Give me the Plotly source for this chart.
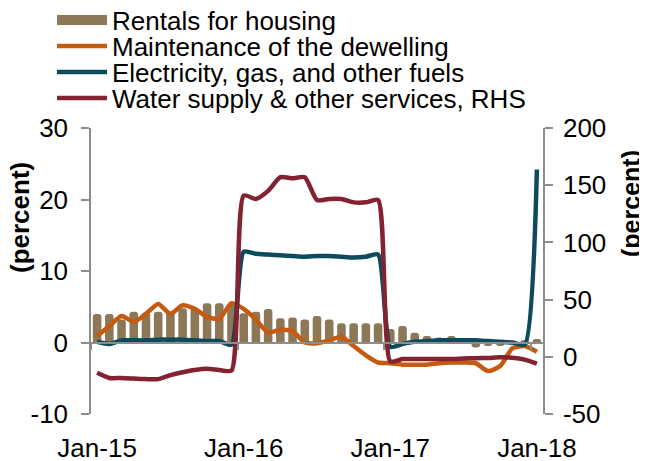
import plotly.graph_objects as go

months = list(range(37))
tick_labels = ["Jan-15", "Jan-16", "Jan-17", "Jan-18"]
tick_months = [0, 12, 24, 36]
left_ticks = [-10, 0, 10, 20, 30]
right_ticks = [-50, 0, 50, 100, 150, 200]

rentals = [4.0, 4.0, 3.2, 4.3, 4.2, 4.3, 4.3, 4.8, 4.8, 5.5, 5.5, 5.5,
           4.1, 4.3, 4.7, 3.4, 3.5, 3.2, 3.7, 3.2, 2.7, 2.7, 2.7, 2.7,
           1.9, 2.3, 1.35, 0.9, 0.7, 0.9, -0.2, -0.7, -0.5, -0.5, -0.3, 0.3, 0.5]
maintenance = [0.9, 2.3, 3.7, 2.9, 4.0, 5.4, 4.0, 5.2, 4.7, 3.6, 3.3, 5.5,
               4.7, 3.2, 1.4, 1.8, 1.6, 0.0, -0.1, 0.3, 0.8, -0.5, -1.8, -2.8,
               -2.9, -3.1, -3.1, -3.1, -2.9, -2.8, -2.8, -2.9, -4.0, -3.3, -0.8, -0.5, -1.3]
electricity = [0.1, -0.2, 0.3, 0.3, 0.3, 0.4, 0.4, 0.4, 0.3, 0.2, 0.2, -0.3,
               12.7, 12.4, 12.3, 12.2, 12.1, 12.0, 12.1, 12.1, 12.0, 11.9, 12.0, 12.3,
               -0.6, -0.2, 0.1, 0.2, 0.3, 0.3, 0.3, 0.3, 0.2, 0.1, 0.0, -0.3, 24.2]
water = [-14, -18.5, -18.5, -19, -19.5, -19.5, -16, -13.5, -11.5, -10.5, -11.5, -12,
         141, 138, 145, 157, 156, 157, 137, 138, 138, 135, 135, 137,
         -4, -2, -2, -2, -2, -2, -1.5, -1.2, -1, -0.5, -0.8, -2.5, -6]

names = ["Rentals for housing", "Maintenance of the dewelling",
         "Electricity, gas, and other fuels", "Water supply & other services, RHS"]

TAN = "#8C7757"
ORANGE = "#C55A11"
BLUE = "#0D4A5E"
RED = "#832230"
GRAY = "#8C8C8C"
FONT = "Liberation Sans, Arial, sans-serif"
FS = 26

# page body has an 8px default margin; figure is sized to fill the rest of the window
OFF = 8
W, H = 647 - OFF, 461 - OFF
L, R, T, B = 91 - OFF, 543 - OFF, 128 - OFF, 414 - OFF

def px_x(px):
    return (px - OFF - L) / (R - L)

def px_y(py):
    return (B - (py - OFF)) / (B - T)

fig = go.Figure()
fig.add_trace(go.Bar(x=months, y=rentals, marker=dict(color=TAN, cornerradius=3, line=dict(width=0)),
                     xaxis="x", yaxis="y", showlegend=False, name=names[0]))
# legend swatch for bars
fig.add_trace(go.Scatter(x=[None], y=[None], mode="lines", line=dict(color=TAN, width=16),
                         name=names[0], legend="legend", xaxis="x3", yaxis="y"))
fig.add_trace(go.Scatter(x=months, y=maintenance, mode="lines", line=dict(color=ORANGE, width=4.5, shape="spline", smoothing=0.6),
                         name=names[1], legend="legend2", xaxis="x3", yaxis="y"))
fig.add_trace(go.Scatter(x=months, y=electricity, mode="lines", line=dict(color=BLUE, width=4.5, shape="spline", smoothing=0.6),
                         name=names[2], legend="legend3", xaxis="x3", yaxis="y"))
fig.add_trace(go.Scatter(x=months, y=water, mode="lines", line=dict(color=RED, width=4.5, shape="spline", smoothing=0.6),
                         name=names[3], legend="legend4", xaxis="x3", yaxis="y2"))

def leg(py):
    return dict(x=px_x(52), y=px_y(py), xref="paper", yref="paper",
                xanchor="left", yanchor="middle", bgcolor="rgba(0,0,0,0)", itemwidth=50,
                font=dict(family=FONT, size=FS, color="#000"), borderwidth=0)

xr = [-0.5, 36.5]
fig.update_layout(
    width=W, height=H,
    margin=dict(l=L, r=W - R, t=T, b=H - B, pad=0, autoexpand=False),
    paper_bgcolor="white", plot_bgcolor="white",
    font=dict(family=FONT, size=FS, color="#000"),
    bargap=0.3,
    legend=leg(20), legend2=leg(46), legend3=leg(72), legend4=leg(98),
    xaxis=dict(range=xr, tickvals=tick_months, ticktext=tick_labels, ticks="",
               showline=False, showgrid=False, zeroline=False,
               tickfont=dict(family=FONT, size=FS), ticklabelstandoff=16),
    xaxis3=dict(range=xr, overlaying="x", anchor="free", position=0.25, side="bottom",
                showline=True, linecolor=GRAY, linewidth=1.5, showgrid=False, zeroline=False,
                ticks="outside", tickvals=[-0.5, 11.5, 23.5, 35.5], ticklen=7, tickcolor=GRAY,
                tickwidth=1.5, showticklabels=False),
    yaxis=dict(range=[-10, 30], tickvals=left_ticks, ticktext=[str(v) for v in left_ticks],
               showgrid=False, zeroline=False,
               showline=True, linecolor=GRAY, linewidth=1.5, ticks="outside", ticklen=8,
               tickcolor=GRAY, tickwidth=1.5, tickfont=dict(family=FONT, size=FS),
               ticklabelstandoff=8),
    yaxis2=dict(range=[-50, 200], tickvals=right_ticks, ticktext=[str(v) for v in right_ticks],
                overlaying="y", side="right",
                showgrid=False, zeroline=False, showline=True, linecolor=GRAY, linewidth=1.5,
                ticks="outside", ticklen=8, tickcolor=GRAY, tickwidth=1.5,
                tickfont=dict(family=FONT, size=FS), ticklabelstandoff=5),
    annotations=[
        dict(text="<b>(percent)</b>", textangle=-90, xref="paper", yref="paper",
             x=px_x(20), y=px_y(218), showarrow=False,
             font=dict(family=FONT, size=FS), xanchor="center", yanchor="middle"),
        dict(text="<b>(percent)</b>", textangle=-90, xref="paper", yref="paper",
             x=px_x(631), y=px_y(204), showarrow=False,
             font=dict(family=FONT, size=FS - 1), xanchor="center", yanchor="middle"),
    ],
)

fig.write_html("out.html")
